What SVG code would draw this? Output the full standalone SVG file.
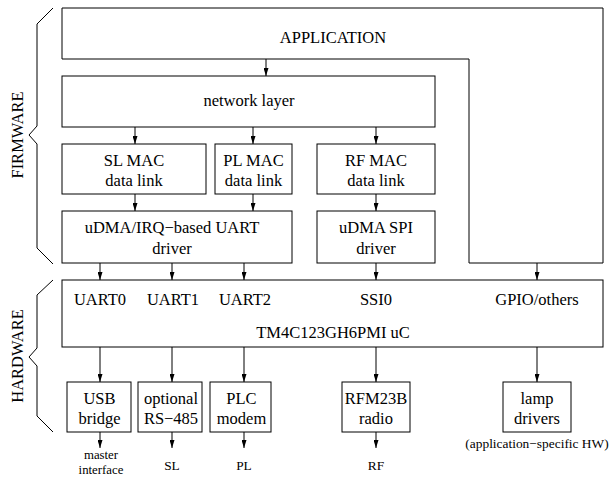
<svg xmlns="http://www.w3.org/2000/svg" width="610" height="477" viewBox="0 0 610 477">
<defs>
<marker id="ah" viewBox="0 0 8 5" refX="8" refY="2.5" markerWidth="8" markerHeight="5" markerUnits="userSpaceOnUse" orient="auto">
<path d="M0,0 L8,2.5 L0,5 z" fill="#000"/>
</marker>
</defs>
<style>
.box{fill:#fff;stroke:#000;stroke-width:1}
.t{font-family:"Liberation Serif","Times New Roman",serif;font-size:16.5px;fill:#000;text-anchor:middle}
.s{font-family:"Liberation Serif","Times New Roman",serif;font-size:13.4px;fill:#000;text-anchor:middle}
.m{font-family:"Liberation Serif","Times New Roman",serif;font-size:12.8px;fill:#000;text-anchor:middle}
.c line{stroke:#000;stroke-width:1;marker-end:url(#ah)}
.br{fill:none;stroke:#000;stroke-width:1}
</style>
<rect width="610" height="477" fill="#fff"/>

<g id="firmware-brace">
<polyline class="br" points="53,8 37,24 37,126 29,135 37,144 37,248 53,264"/>
<text class="t" transform="translate(23,135) rotate(-90)">FIRMWARE</text>
</g>
<g id="hardware-brace">
<polyline class="br" points="53,280 37,295 37,348 29,357 37,366 37,416 53,432"/>
<text class="t" transform="translate(23,356) rotate(-90)">HARDWARE</text>
</g>

<g id="application">
<path class="box" d="M62,8 H603 V263 H469 V59 H62 Z"/>
<text class="t" x="333" y="43">APPLICATION</text>
</g>
<g id="network-layer">
<rect class="box" x="62" y="76" width="373" height="51"/>
<text class="t" x="249" y="106">network layer</text>
</g>
<g id="sl-mac">
<rect class="box" x="62" y="144" width="144" height="50"/>
<text class="t" x="134" y="166">SL MAC</text>
<text class="t" x="134" y="186">data link</text>
</g>
<g id="pl-mac">
<rect class="box" x="215" y="144" width="77" height="50"/>
<text class="t" x="253.5" y="166">PL MAC</text>
<text class="t" x="253.5" y="186">data link</text>
</g>
<g id="rf-mac">
<rect class="box" x="317" y="144" width="118" height="50"/>
<text class="t" x="376" y="166">RF MAC</text>
<text class="t" x="376" y="186">data link</text>
</g>
<g id="uart-driver">
<rect class="box" x="62" y="211" width="230" height="52"/>
<text class="t" x="172" y="233">uDMA/IRQ−based UART</text>
<text class="t" x="172" y="254">driver</text>
</g>
<g id="spi-driver">
<rect class="box" x="317" y="211" width="118" height="52"/>
<text class="t" x="376" y="233">uDMA SPI</text>
<text class="t" x="376" y="254">driver</text>
</g>
<g id="mcu">
<rect class="box" x="62" y="280" width="541" height="67"/>
<text class="t" x="100" y="305">UART0</text>
<text class="t" x="173" y="305">UART1</text>
<text class="t" x="245" y="305">UART2</text>
<text class="t" x="376" y="305">SSI0</text>
<text class="t" x="537" y="305">GPIO/others</text>
<text class="t" x="333" y="338">TM4C123GH6PMI uC</text>
</g>
<g id="usb-bridge">
<rect class="box" x="67" y="382" width="64" height="50"/>
<text class="t" x="99.5" y="404">USB</text>
<text class="t" x="99.5" y="424">bridge</text>
</g>
<g id="rs485">
<rect class="box" x="138" y="382" width="64" height="50"/>
<text class="t" x="171" y="404">optional</text>
<text class="t" x="171" y="424">RS−485</text>
</g>
<g id="plc-modem">
<rect class="box" x="210" y="382" width="61" height="50"/>
<text class="t" x="241.5" y="404">PLC</text>
<text class="t" x="241.5" y="424">modem</text>
</g>
<g id="rfm23b">
<rect class="box" x="342" y="382" width="68" height="50"/>
<text class="t" x="376" y="404">RFM23B</text>
<text class="t" x="376" y="424">radio</text>
</g>
<g id="lamp-drivers">
<rect class="box" x="503" y="382" width="68" height="50"/>
<text class="t" x="537" y="404">lamp</text>
<text class="t" x="537" y="424">drivers</text>
<text class="s" x="537" y="448">(application−specific HW)</text>
</g>
<g id="out-labels">
<text class="m" x="101" y="459">master</text>
<text class="m" x="101" y="474">interface</text>
<text class="s" x="172" y="470">SL</text>
<text class="s" x="244" y="470">PL</text>
<text class="s" x="376" y="470">RF</text>
</g>

<g id="connectors" class="c">
<line x1="266" y1="59" x2="266" y2="76"/>
<line x1="135" y1="127" x2="135" y2="144"/>
<line x1="253" y1="127" x2="253" y2="144"/>
<line x1="376" y1="127" x2="376" y2="144"/>
<line x1="135" y1="194" x2="135" y2="211"/>
<line x1="253" y1="194" x2="253" y2="211"/>
<line x1="376" y1="194" x2="376" y2="211"/>
<line x1="100" y1="263" x2="100" y2="280"/>
<line x1="172" y1="263" x2="172" y2="280"/>
<line x1="244" y1="263" x2="244" y2="280"/>
<line x1="376" y1="263" x2="376" y2="280"/>
<line x1="537" y1="263" x2="537" y2="280"/>
<line x1="100" y1="347" x2="100" y2="382"/>
<line x1="172" y1="347" x2="172" y2="382"/>
<line x1="244" y1="347" x2="244" y2="382"/>
<line x1="376" y1="347" x2="376" y2="382"/>
<line x1="537" y1="347" x2="537" y2="382"/>
<line x1="100" y1="432" x2="100" y2="448"/>
<line x1="172" y1="432" x2="172" y2="448"/>
<line x1="244" y1="432" x2="244" y2="448"/>
<line x1="376" y1="432" x2="376" y2="448"/>
</g>
</svg>
